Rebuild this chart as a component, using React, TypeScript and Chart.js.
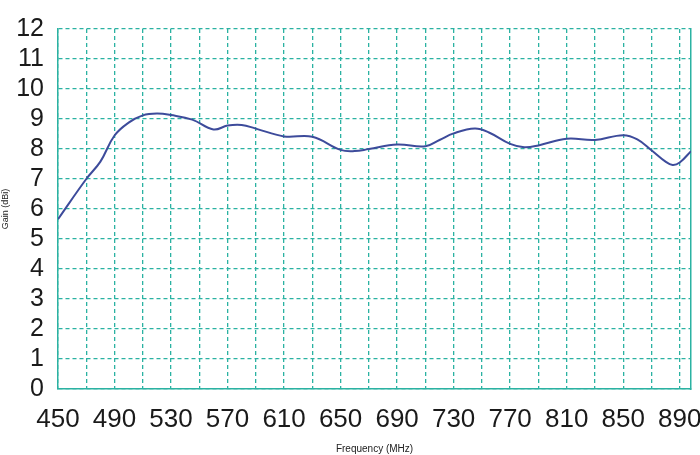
import React, { useEffect, useRef } from "react";
import { Chart, registerables } from "chart.js";

Chart.register(...registerables);

const frequencies = [450, 470, 480, 490, 500, 510, 520, 530, 545, 560, 570, 580, 590, 610, 630, 650, 660, 670, 690, 710, 720, 730, 745, 755, 770, 780, 790, 810, 830, 850, 860, 870, 880, 885, 890, 898];
const gainValues = [5.66, 7.0, 7.58, 8.45, 8.88, 9.12, 9.18, 9.13, 8.98, 8.65, 8.78, 8.8, 8.68, 8.42, 8.41, 7.97, 7.93, 8.0, 8.15, 8.09, 8.3, 8.52, 8.68, 8.55, 8.17, 8.06, 8.12, 8.34, 8.3, 8.46, 8.32, 7.96, 7.58, 7.47, 7.55, 7.93];
const xGridValues = [450, 470, 490, 510, 530, 550, 570, 590, 610, 630, 650, 670, 690, 710, 730, 750, 770, 790, 810, 830, 850, 870, 890];
const xTickLabels = [450, 490, 530, 570, 610, 650, 690, 730, 770, 810, 850, 890];
const yTickLabels = [0, 1, 2, 3, 4, 5, 6, 7, 8, 9, 10, 11, 12];
const xTitle = "Frequency (MHz)";
const yTitle = "Gain (dBi)";

const TEAL = "#2bb2a2";
const LINE = "#3d4b9b";
const FONT = "'Liberation Sans', Arial, sans-serif";

export default function App() {
  const ref = useRef<HTMLCanvasElement>(null);
  useEffect(() => {
    if (!ref.current) return;
    const chart = new Chart(ref.current, {
      type: "line",
      data: {
        datasets: [
          {
            data: frequencies.map((f, i) => ({ x: f, y: gainValues[i] })),
            borderColor: LINE,
            borderWidth: 2,
            pointRadius: 0,
            tension: 0.4,
            fill: false,
          },
        ],
      },
      options: {
        responsive: false,
        animation: false,
        layout: { padding: { left: 0, right: 0, top: 13, bottom: 0 } },
        plugins: { legend: { display: false }, tooltip: { enabled: false } },
        scales: {
          x: {
            type: "linear",
            min: 450,
            max: 898,
            afterBuildTicks: (s: any) => {
              s.ticks = xGridValues.map((v) => ({ value: v }));
            },
            grid: {
              color: TEAL,
              lineWidth: 1.3,
              drawTicks: false,
            },
            border: { display: true, color: TEAL, width: 1.5, dash: [4, 3] },
            ticks: {
              autoSkip: false,
              maxRotation: 0,
              padding: 15,
              color: "#1a1a1a",
              font: { family: FONT, size: 26 },
              callback: (v: any) => (xTickLabels.includes(Number(v)) ? String(v) : ""),
            },
            title: {
              display: true,
              text: xTitle,
              color: "#222",
              font: { family: FONT, size: 10 },
              padding: { top: 0, bottom: 0 },
            },
            afterFit: (s: any) => {
              s.height = 66;
              s.paddingLeft = 0;
              s.paddingRight = 0;
            },
          },
          y: {
            type: "linear",
            min: 0,
            max: 12,
            grid: {
              color: TEAL,
              lineWidth: 1.3,
              drawTicks: false,
            },
            border: { display: true, color: TEAL, width: 1.5, dash: [4, 3] },
            ticks: {
              stepSize: 1,
              autoSkip: false,
              padding: 14,
              color: "#1a1a1a",
              font: { family: FONT, size: 25 },
              callback: (v: any) => (yTickLabels.includes(Number(v)) ? String(v) : ""),
            },
            title: {
              display: true,
              text: yTitle,
              color: "#222",
              font: { family: FONT, size: 9 },
              padding: { top: 0, bottom: 0 },
            },
            afterFit: (s: any) => {
              s.width = 58;
            },
          },
          y2: {
            type: "linear",
            position: "right",
            min: 0,
            max: 12,
            grid: { display: false, drawTicks: false },
            border: { display: true, color: TEAL, width: 1.5 },
            ticks: { display: false },
            afterFit: (s: any) => {
              s.width = 9;
            },
          },
        },
      } as any,
    });
    return () => chart.destroy();
  }, []);
  return (
    <div style={{ position: "absolute", left: 0, top: 0, width: 700, height: 455, background: "#fff" }}>
      <canvas ref={ref} width={700} height={455} style={{ display: "block" }} />
    </div>
  );
}
